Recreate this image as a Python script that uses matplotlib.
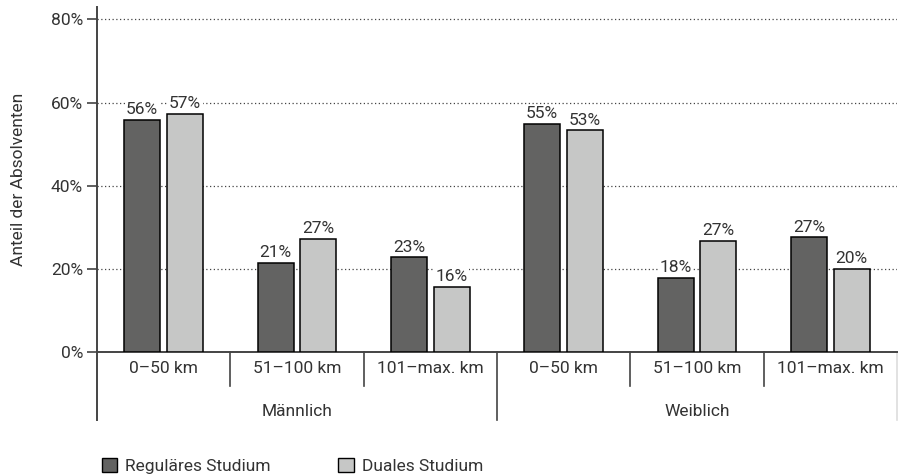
import matplotlib.pyplot as plt
from matplotlib.patches import Patch
import numpy as np

plt.rcParams['font.family'] = ['Roboto', 'DejaVu Sans']
plt.rcParams['text.color'] = '#333333'
plt.rcParams['axes.labelcolor'] = '#333333'
plt.rcParams['xtick.color'] = '#333333'
plt.rcParams['ytick.color'] = '#333333'

# Daten
geschlecht = ['Männlich', 'Weiblich']
entfernung = ['0–50 km', '51–100 km', '101–max. km']
regulaer = [55.8, 21.4, 22.7, 54.9, 17.8, 27.5]
dual = [57.3, 27.1, 15.6, 53.3, 26.7, 20.0]
regulaer_lbl = ['56%', '21%', '23%', '55%', '18%', '27%']
dual_lbl = ['57%', '27%', '16%', '53%', '27%', '20%']

c_dark = '#636362'
c_light = '#c6c7c6'
fs = 12.5
fw = 'normal'

fig = plt.figure(figsize=(8.98, 4.74), dpi=100)
ax = fig.add_axes([97 / 898, 122.3 / 474, 800 / 898, 344.7 / 474])

x = np.arange(len(regulaer))
w = 0.27
off = 0.161
b1 = ax.bar(x - off, regulaer, w, color=c_dark, edgecolor='black', linewidth=1.1, zorder=3)
b2 = ax.bar(x + off, dual, w, color=c_light, edgecolor='black', linewidth=1.1, zorder=3)

for bars, lbls in [(b1, regulaer_lbl), (b2, dual_lbl)]:
    for b, l in zip(bars, lbls):
        ax.annotate(l, (b.get_x() + b.get_width() / 2, b.get_height()),
                    xytext=(0, 2), textcoords='offset points', ha='center', va='bottom',
                    fontsize=fs, fontweight=fw, zorder=4,
                    bbox=dict(facecolor='white', edgecolor='none', pad=1.0))

ax.set_xlim(-0.5, 5.5)
ax.set_ylim(0, 83)
ax.set_yticks([0, 20, 40, 60, 80])
ax.set_yticklabels(['0%', '20%', '40%', '60%', '80%'], fontsize=fs, fontweight=fw)
ax.tick_params(axis='y', length=7, width=1.2, color='#444444', pad=3)
ax.yaxis.grid(True, linestyle=(0, (1, 2)), color='#444444', linewidth=0.9, zorder=0)
ax.set_axisbelow(True)

ax.set_ylabel('Anteil der Absolventen', fontsize=fs, fontweight=fw, labelpad=18)

for s in ['top', 'right']:
    ax.spines[s].set_visible(False)
ax.spines['left'].set_color('#444444')
ax.spines['left'].set_linewidth(1.4)
ax.spines['bottom'].set_color('#444444')
ax.spines['bottom'].set_linewidth(1.4)

# Kategorien-Achse
ax.set_xticks(x)
ax.set_xticklabels(entfernung * 2, fontsize=fs, fontweight=fw)
ax.tick_params(axis='x', length=0, pad=7)

trans = ax.get_xaxis_transform()
for i in range(1, 6):
    pos = i - 0.5
    y0 = -0.198 if i == 3 else -0.0986
    ax.plot([pos, pos], [0, y0], transform=trans, color='#444444', lw=1.2, clip_on=False)
ax.plot([-0.5, -0.5], [0, -0.198], transform=trans, color='#444444', lw=1.4, clip_on=False)
ax.plot([5.5, 5.5], [0, -0.198], transform=trans, color='#dddddd', lw=1.2, clip_on=False)

for j, g in enumerate(geschlecht):
    ax.text(j * 3 + 1, -0.174, g, transform=trans, ha='center', va='center',
            fontsize=fs, fontweight=fw)

handles = [Patch(facecolor=c_dark, edgecolor='black', label='Reguläres Studium'),
           Patch(facecolor=c_light, edgecolor='black', label='Duales Studium')]
fig.legend(handles=handles, loc='center left', bbox_to_anchor=(86 / 898, 8 / 474),
           ncol=2, frameon=False, prop={'weight': fw, 'size': fs},
           handlelength=0.9, handleheight=0.9, handletextpad=0.45, columnspacing=3.9)

fig.savefig('out.png', dpi=100)
